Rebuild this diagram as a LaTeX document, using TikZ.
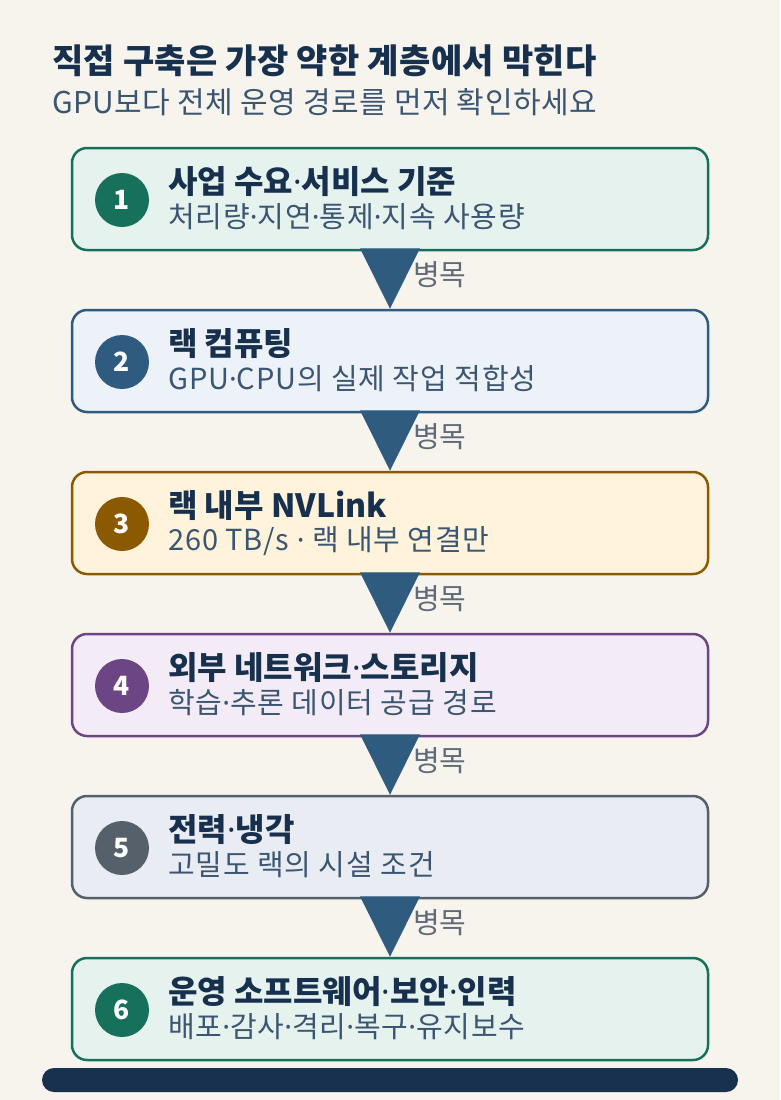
\documentclass[tikz,border=0pt]{standalone}
\usepackage{fontspec}
\setmainfont{Noto Sans CJK KR}
\newfontfamily\dotfont{Noto Sans}
\newcommand{\sepdot}{{\dotfont ·}}
\usetikzlibrary{calc}
\definecolor{bgc}{HTML}{F7F4EE}
\definecolor{ink}{HTML}{16304D}
\definecolor{subink}{HTML}{3B5672}
\definecolor{grayink}{HTML}{5F6B78}
\definecolor{arrowc}{HTML}{2F5B7E}
\definecolor{barc}{HTML}{17314E}
\definecolor{greenl}{HTML}{17705A}  \definecolor{greenf}{HTML}{E6F2EE}
\definecolor{bluel}{HTML}{2F5B80}   \definecolor{bluef}{HTML}{EDF1F8}
\definecolor{goldl}{HTML}{8B5A00}   \definecolor{goldf}{HTML}{FFF3DC}
\definecolor{purpl}{HTML}{6B4584}   \definecolor{purpf}{HTML}{F3EBF5}
\definecolor{slatel}{HTML}{56606B}  \definecolor{slatef}{HTML}{E9EDF3}
\tikzset{
  layer/.style={rectangle, rounded corners=15pt, line width=2.5pt,
    minimum width=636pt, minimum height=102pt},
  badge/.style={circle, minimum size=54pt, inner sep=0pt, text=white,
    font=\fontsize{26.5}{26.5}\selectfont\bfseries},
  head/.style={anchor=west, inner sep=0pt, text=ink,
    font=\fontsize{32}{32}\selectfont\bfseries},
  note/.style={anchor=west, inner sep=0pt, text=subink,
    font=\fontsize{29}{29}\selectfont\addfontfeature{LetterSpace=3}},
  neck/.style={anchor=west, inner sep=0pt, text=grayink,
    font=\fontsize{29}{29}\selectfont}
}
\begin{document}
\begin{tikzpicture}[x=1pt, y=-1pt]
    \fill[bgc] (0,0) rectangle (780,1100);
    \node (t) at (52,61) [anchor=west, inner sep=0pt, text=ink,
    font=\fontsize{34}{34}\selectfont\bfseries\addfontfeature{LetterSpace=1}] {직접 구축은 가장 약한 계층에서 막힌다};
    \node (st) at (52,102) [anchor=west, inner sep=0pt, text=subink,
    font=\fontsize{30}{30}\selectfont\addfontfeature{LetterSpace=1.5}] {GPU보다 전체 운영 경로를 먼저 확인하세요};
    % layers
    \node (s1) at (390,199) [layer, draw=greenl, fill=greenf] {};
    \node (n1) at (122,200) [badge, fill=greenl] {1};
    \node (h1) at (168,182) [head] {사업 수요\sepdot 서비스 기준};
    \node (d1) at (168,217) [note] {처리량\sepdot 지연\sepdot 통제\sepdot 지속 사용량};
    \node (s2) at (390,361) [layer, draw=bluel, fill=bluef] {};
    \node (n2) at (122,362) [badge, fill=bluel] {2};
    \node (h2) at (168,344) [head] {랙 컴퓨팅};
    \node (d2) at (168,379) [note] {GPU\sepdot CPU의 실제 작업 적합성};
    \node (s3) at (390,523) [layer, draw=goldl, fill=goldf] {};
    \node (n3) at (122,524) [badge, fill=goldl] {3};
    \node (h3) at (168,506) [head] {랙 내부 NVLink};
    \node (d3) at (168,541) [note] {260 TB/s \sepdot\ 랙 내부 연결만};
    \node (s4) at (390,685) [layer, draw=purpl, fill=purpf] {};
    \node (n4) at (122,686) [badge, fill=purpl] {4};
    \node (h4) at (168,668) [head] {외부 네트워크\sepdot 스토리지};
    \node (d4) at (168,703) [note] {학습\sepdot 추론 데이터 공급 경로};
    \node (s5) at (390,847) [layer, draw=slatel, fill=slatef] {};
    \node (n5) at (122,848) [badge, fill=slatel] {5};
    \node (h5) at (168,830) [head] {전력\sepdot 냉각};
    \node (d5) at (168,865) [note] {고밀도 랙의 시설 조건};
    \node (s6) at (390,1009) [layer, draw=greenl, fill=greenf] {};
    \node (n6) at (122,1010) [badge, fill=greenl] {6};
    \node (h6) at (168,992) [head] {운영 소프트웨어\sepdot 보안\sepdot 인력};
    \node (d6) at (168,1027) [note] {배포\sepdot 감사\sepdot 격리\sepdot 복구\sepdot 유지보수};
    % bottlenecks
    \fill[arrowc] ($(s1.south)+(-30,-3)$) -- ($(s1.south)+(30,-3)$) -- (s2.north) -- cycle;
    \node (b1) at ($(s1.south)+(23,23)$) [neck] {병목};
    \fill[arrowc] ($(s2.south)+(-30,-3)$) -- ($(s2.south)+(30,-3)$) -- (s3.north) -- cycle;
    \node (b2) at ($(s2.south)+(23,23)$) [neck] {병목};
    \fill[arrowc] ($(s3.south)+(-30,-3)$) -- ($(s3.south)+(30,-3)$) -- (s4.north) -- cycle;
    \node (b3) at ($(s3.south)+(23,23)$) [neck] {병목};
    \fill[arrowc] ($(s4.south)+(-30,-3)$) -- ($(s4.south)+(30,-3)$) -- (s5.north) -- cycle;
    \node (b4) at ($(s4.south)+(23,23)$) [neck] {병목};
    \fill[arrowc] ($(s5.south)+(-30,-3)$) -- ($(s5.south)+(30,-3)$) -- (s6.north) -- cycle;
    \node (b5) at ($(s5.south)+(23,23)$) [neck] {병목};
    % base
    \node (base) at (390,1080) [rectangle, rounded corners=12pt, fill=barc,
    minimum width=696pt, minimum height=24pt] {};
\end{tikzpicture}
\end{document}
